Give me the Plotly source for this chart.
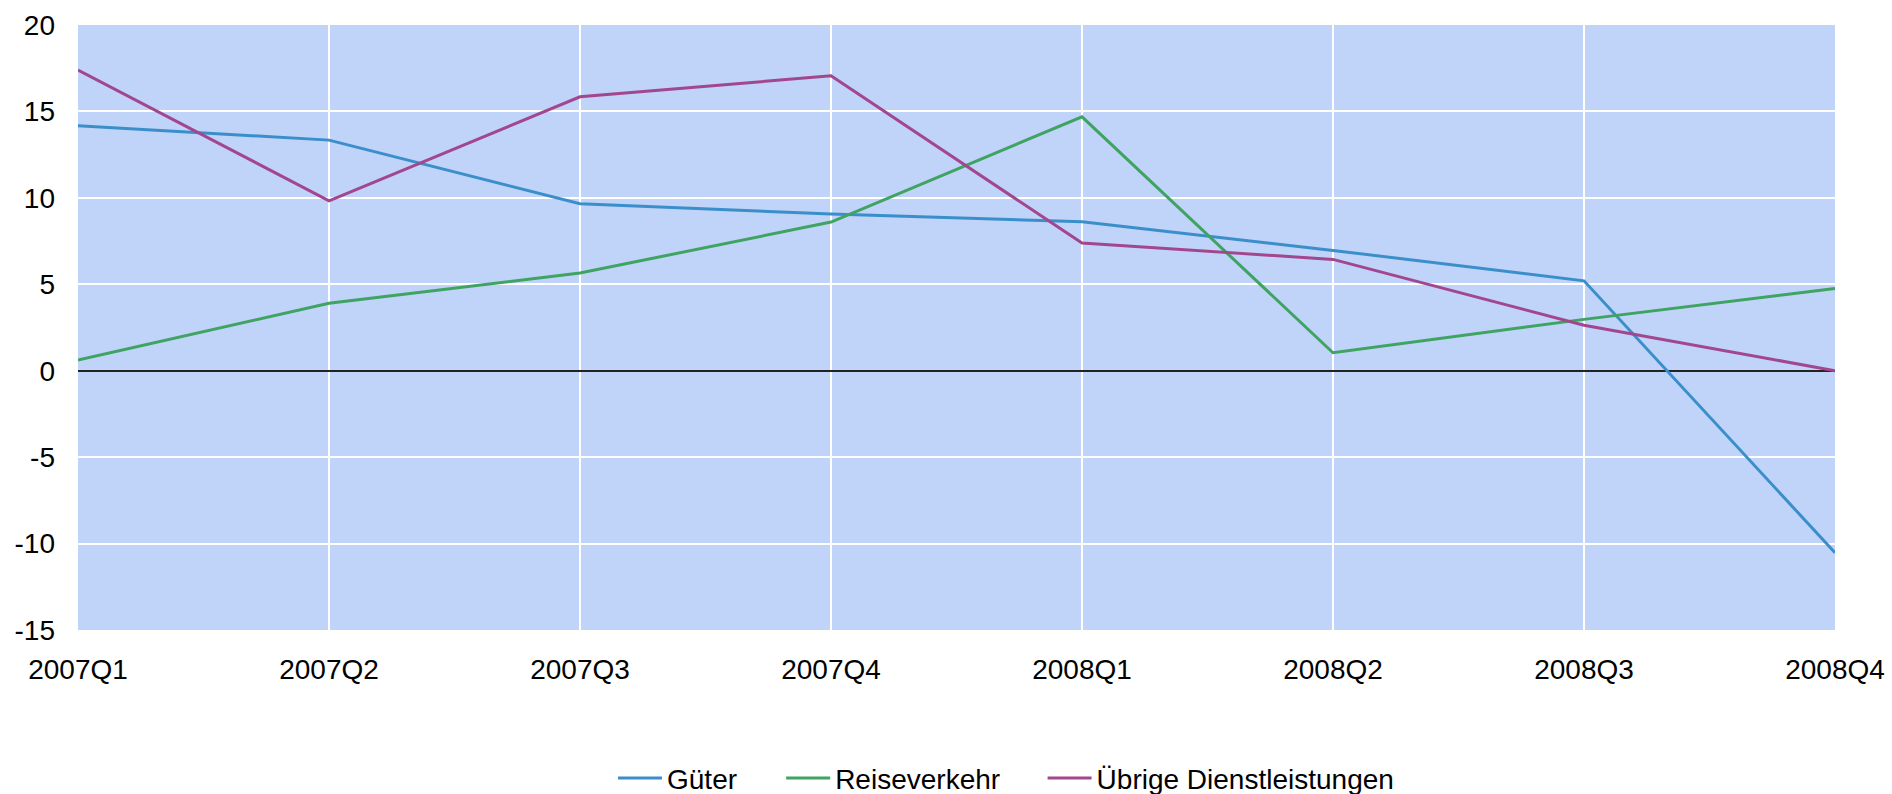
import plotly.graph_objects as go

quarters = ["2007Q1", "2007Q2", "2007Q3", "2007Q4", "2008Q1", "2008Q2", "2008Q3", "2008Q4"]
gueter = [14.17, 13.34, 9.66, 9.06, 8.62, 6.96, 5.2, -10.53]
reiseverkehr = [0.62, 3.9, 5.65, 8.6, 14.69, 1.04, 2.97, 4.76]
uebrige = [17.39, 9.83, 15.85, 17.06, 7.39, 6.44, 2.63, 0.0]

y_ticks = [-15, -10, -5, 0, 5, 10, 15, 20]
y_ticktext = ["-15", "-10", "-5", "0", "5", "10", "15", "20"]

fig = go.Figure()
series = [
    ("Güter", gueter, "#3A8FCA", "legend", 0.3045),
    ("Reiseverkehr", reiseverkehr, "#3FA362", "legend2", 0.4002),
    ("Übrige Dienstleistungen", uebrige, "#A2468E", "legend3", 0.5490),
]
legend_cfg = {}
for name, vals, col, lg, lx in series:
    fig.add_trace(go.Scatter(x=quarters, y=vals, mode="lines", name=name,
                             line=dict(color=col, width=3), legend=lg))
    legend_cfg[lg] = dict(orientation="h", x=lx, xanchor="left", y=-0.245, yanchor="middle",
                          font=dict(size=28), bgcolor="rgba(0,0,0,0)", itemwidth=44)

fig.update_layout(
    width=1892, height=794,
    margin=dict(l=78, r=57, t=25, b=164, autoexpand=False),
    paper_bgcolor="white",
    plot_bgcolor="#C0D3F9",
    font=dict(family="Liberation Sans, Arial, sans-serif", size=28, color="black"),
    showlegend=True,
    **legend_cfg,
)
fig.update_xaxes(
    type="category", categoryorder="array", categoryarray=quarters,
    range=[0, 7], showgrid=True, gridcolor="white", gridwidth=1.5,
    ticks="", showline=False, zeroline=False, ticklabelstandoff=20,
    tickfont=dict(size=28), automargin=False,
)
fig.update_yaxes(
    range=[-15, 20], tickvals=y_ticks, ticktext=y_ticktext, showgrid=True,
    gridcolor="white", gridwidth=1.5,
    zeroline=True, zerolinecolor="#222222", zerolinewidth=1.5,
    ticks="", showline=False, ticklabelstandoff=22, tickfont=dict(size=28),
    automargin=False,
)

fig.write_html("out.html", config={"displayModeBar": False},
               post_script="document.body.style.margin='0';document.body.style.overflow='hidden';")
